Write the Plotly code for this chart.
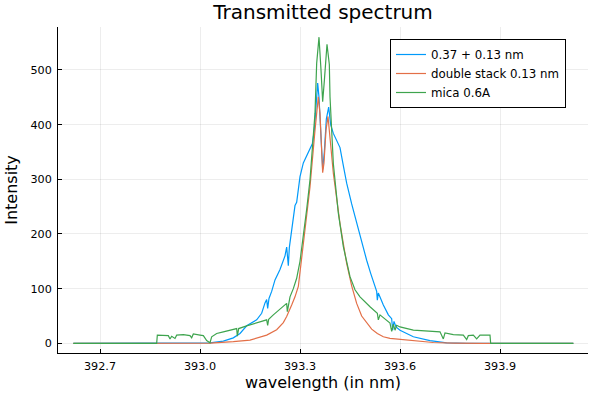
import plotly.graph_objects as go

# ---- data ----
series_names = ["0.37 + 0.13 nm", "double stack 0.13 nm", "mica 0.6A"]
series_colors = ["#009AFA", "#E36F47", "#3EA44E"]

wl_a = [392.62, 393.00, 393.03, 393.07, 393.10, 393.12, 393.14, 393.17, 393.185, 393.195,
        393.200, 393.203, 393.207, 393.215, 393.225, 393.24, 393.255, 393.260, 393.265, 393.268,
        393.275, 393.28, 393.285, 393.29, 393.293, 393.30, 393.31, 393.32, 393.33, 393.337,
        393.343, 393.348, 393.353, 393.357, 393.362, 393.368, 393.373, 393.379, 393.386, 393.392,
        393.40, 393.41, 393.42, 393.43, 393.44, 393.455, 393.47, 393.485, 393.50, 393.512,
        393.525, 393.530, 393.532, 393.535, 393.55, 393.565, 393.575, 393.578, 393.582, 393.588,
        393.60, 393.64, 393.69, 393.74, 393.80, 394.12]
int_a = [0, 0, 1, 4, 10, 18, 32, 43, 55, 74,
         80, 64, 82, 95, 116, 135, 160, 176, 142, 175,
         205, 235, 252, 258, 275, 305, 330, 343, 355, 365,
         390, 440, 476, 450, 380, 318, 350, 410, 432, 400,
         384, 370, 358, 325, 293, 255, 219, 185, 152, 128,
         104, 95, 79, 92, 70, 52, 45, 24, 40, 30,
         24, 12, 5, 1, 0, 0]

wl_b = [392.62, 393.03, 393.10, 393.15, 393.20, 393.23, 393.25, 393.26, 393.275, 393.285,
        393.295, 393.31, 393.33, 393.345, 393.35, 393.355, 393.36, 393.365, 393.368, 393.372,
        393.378, 393.384, 393.39, 393.40, 393.42, 393.44, 393.455, 393.47, 393.485, 393.50,
        393.515, 393.532, 393.55, 393.57, 393.60, 393.63, 393.70, 393.76, 393.85, 394.12]
int_b = [0, 0.5, 3, 6, 15, 25, 38, 49, 70, 85,
         104, 183, 286, 390, 425, 451, 420, 340, 312, 330,
         390, 415, 372, 311, 219, 146, 105, 73, 50, 37,
         26, 18, 12, 9, 7, 5, 1.5, 0.5, 0, 0]

wl_c = [392.62, 392.87, 392.872, 392.89, 392.905, 392.91, 392.915, 392.925, 392.93, 392.95,
        392.97, 392.975, 392.98, 393.00, 393.01, 393.02, 393.03, 393.035, 393.05, 393.07,
        393.09, 393.11, 393.112, 393.116, 393.14, 393.17, 393.20, 393.203, 393.206, 393.22,
        393.24, 393.26, 393.262, 393.266, 393.27, 393.28, 393.29, 393.30, 393.31, 393.32,
        393.33, 393.345, 393.35, 393.357, 393.363, 393.368, 393.373, 393.381, 393.388, 393.39,
        393.40, 393.415, 393.43, 393.45, 393.465, 393.48, 393.51, 393.532, 393.535, 393.54,
        393.57, 393.575, 393.58, 393.585, 393.59, 393.60, 393.64, 393.70, 393.72, 393.73,
        393.735, 393.76, 393.79, 393.80, 393.805, 393.82, 393.83, 393.84, 393.87, 393.872,
        394.12]
int_c = [0, 0, 15, 15, 14, 8, 13, 9, 15, 16,
         14, 10, 17, 15, 14, 5, 1, 12, 18, 21,
         24, 27, 13, 27, 32, 38, 43, 33, 44, 52,
         62, 73, 58, 76, 85, 100, 119, 150, 195, 245,
         299, 421, 512, 560, 500, 442, 480, 547, 510, 451,
         329, 238, 177, 122, 98, 85, 67, 55, 43, 52,
         37, 22, 35, 24, 33, 30, 24, 22, 21, 8,
         19, 16, 15, 7, 14, 15, 8, 15, 15, 0,
         0]

x_ticks = [392.7, 393.0, 393.3, 393.6, 393.9]
x_tick_labels = ["392.7", "393.0", "393.3", "393.6", "393.9"]
y_ticks = [0, 100, 200, 300, 400, 500]

FONT = "DejaVu Sans"

fig = go.Figure()
for wl, val, name, col in [(wl_a, int_a, series_names[0], series_colors[0]),
                           (wl_b, int_b, series_names[1], series_colors[1]),
                           (wl_c, int_c, series_names[2], series_colors[2])]:
    fig.add_trace(go.Scatter(x=wl, y=val, mode="lines", name=name,
                             line=dict(color=col, width=1.2)))

axis_common = dict(
    showline=True, linecolor="black", linewidth=1, mirror=False,
    ticks="inside", ticklen=4, tickcolor="black", tickwidth=1,
    showgrid=True, gridcolor="rgba(0,0,0,0.07)", gridwidth=0.5,
    zeroline=False, automargin=False,
    tickfont=dict(family=FONT, size=11.2, color="black"),
)

fig.update_layout(
    width=598, height=395,
    margin=dict(l=58, r=10, t=27, b=42, autoexpand=False),
    paper_bgcolor="white", plot_bgcolor="white",
    font=dict(family=FONT, color="black"),
    title=dict(text="Transmitted spectrum", x=(58 + 265) / 598, xanchor="center",
               y=1 - 5 / 395, yanchor="top", yref="container",
               font=dict(family=FONT, size=20, color="black")),
    xaxis=dict(range=[392.574, 394.164], tickvals=x_ticks, ticktext=x_tick_labels,
               ticklabelstandoff=3,
               title=dict(text="wavelength (in nm)", standoff=4,
                          font=dict(family=FONT, size=16)),
               **axis_common),
    yaxis=dict(range=[-17.7, 578.6], tickvals=y_ticks,
               ticklabelstandoff=3,
               title=dict(text="Intensity", standoff=8,
                          font=dict(family=FONT, size=16)),
               **axis_common),
    legend=dict(x=(390 - 58) / 530, y=(353 - 39) / 326, xanchor="left", yanchor="top",
                bgcolor="white", bordercolor="black", borderwidth=1,
                font=dict(family=FONT, size=11.8, color="black"),
                itemwidth=30, tracegroupgap=0),
    showlegend=True,
)

fig.write_html("out.html", config={"displayModeBar": False},
               post_script="document.body.style.margin='0';document.body.style.overflow='hidden';")
